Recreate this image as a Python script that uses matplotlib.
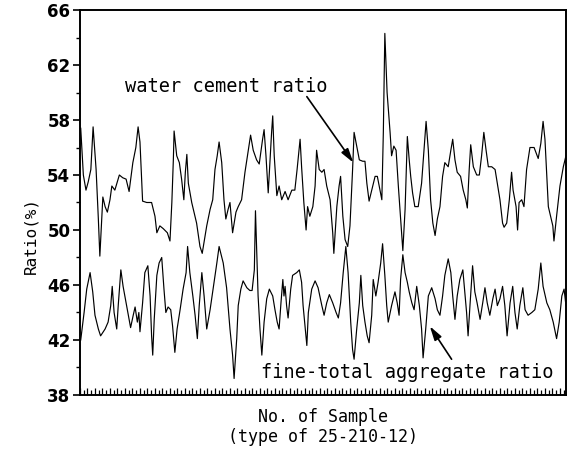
import matplotlib.pyplot as plt
from matplotlib.ticker import MultipleLocator

# water cement ratio (sample no., %)
wc_sample = [0.2, 0.5, 0.9, 1.6, 2.2, 2.9, 3.3, 3.5, 4.3, 4.9, 5.3, 6.1, 6.7, 7.3, 8.0, 8.5, 9.3,
             10.5, 11.4, 12.3, 13.1, 14.1, 14.9, 15.5, 16.0, 16.7, 17.8, 19.1, 20.0, 20.5, 21.3,
             22.2, 23.3, 24.0, 24.5, 24.9, 25.1, 25.8, 26.5, 27.1, 27.7, 28.1, 28.5, 28.9, 29.8,
             31.1, 32.0, 32.6, 33.8, 34.7, 35.4, 36.0, 36.6, 37.1, 37.8, 38.4, 38.9, 39.5, 40.0,
             40.7, 41.6, 42.2, 43.1, 44.0, 44.9, 45.5, 46.2, 47.1, 47.8, 48.7, 49.1, 49.6, 50.2,
             50.7, 51.1, 51.4, 51.8, 52.5, 53.1, 53.8, 54.7, 55.5, 56.5, 57.3, 57.9, 58.7, 59.1,
             59.7, 60.3, 60.7, 61.3, 62.1, 62.7, 63.1, 63.8, 64.5, 65.1, 65.8, 66.7, 67.4, 67.7,
             68.5, 69.1, 69.5, 70.1, 70.7, 71.4, 72.0, 72.7, 73.1, 73.8, 74.5, 75.4, 76.0, 76.5,
             77.1, 77.8, 78.7, 79.3, 79.8, 80.5, 80.9, 81.3, 81.9, 82.7, 83.1, 83.7, 84.3, 84.9,
             85.5, 86.1, 86.7, 87.3, 87.8, 88.2, 88.7, 89.3, 90.2, 91.1, 91.7, 92.3, 92.9, 93.5,
             94.1, 94.7, 95.3, 96.0, 96.7, 97.3, 98.2, 98.9, 99.4, 100.0, 100.6, 101.5, 102.2,
             102.9, 103.3, 103.8, 104.2, 104.9, 105.8, 106.5, 107.1, 107.7, 108.3, 108.9, 109.8,
             110.7, 111.3, 112.0, 112.7, 113.1, 113.8, 114.5, 115.1, 115.5, 116.3, 116.7, 117.1,
             117.8, 118.4, 119.1, 120.0, 121.1, 122.2, 122.9, 123.5, 124.0, 124.5, 124.9, 125.5,
             126.1, 126.4, 127.1, 128.0, 128.9, 129.6]
wc_ratio = [57.4, 56.0, 54.0, 52.9, 53.5, 54.4, 56.4, 57.5, 54.4, 50.8, 48.1, 52.4, 51.7, 51.3,
            52.2, 53.2, 52.9, 54.0, 53.8, 53.7, 52.8, 54.9, 56.0, 57.5, 56.4, 52.1, 52.0, 52.0,
            51.0, 49.8, 50.3, 50.1, 49.8, 49.2, 52.0, 55.1, 57.2, 55.4, 54.9, 53.7, 52.2, 54.2,
            55.5, 53.4, 52.0, 50.5, 48.8, 48.3, 50.3, 51.5, 52.2, 54.4, 55.4, 56.4, 54.9, 52.2,
            50.8, 51.5, 52.0, 49.8, 51.3, 51.7, 52.2, 54.2, 55.8, 56.9, 55.8, 55.1, 54.8, 56.6,
            57.3, 55.4, 52.7, 55.1, 57.1, 58.3, 55.4, 52.5, 53.2, 52.2, 52.8, 52.2, 52.9, 52.9,
            54.4, 56.6, 54.6, 52.0, 50.0, 51.7, 51.0, 51.7, 53.2, 55.8, 54.4, 54.2, 54.4, 53.2,
            52.2, 49.8, 48.3, 51.7, 53.2, 53.9, 51.0, 49.3, 48.8, 50.3, 54.4, 57.1, 56.1, 55.1,
            55.0, 55.0, 53.4, 52.1, 52.9, 53.9, 53.9, 53.2, 52.2, 57.1, 64.3, 60.0, 57.1, 55.4,
            56.1, 55.8, 53.2, 50.8, 48.5, 51.5, 56.8, 55.1, 53.9, 52.7, 51.7, 51.7, 53.4, 55.6,
            57.9, 55.8, 52.2, 50.5, 49.6, 50.8, 51.7, 53.9, 54.9, 54.6, 55.8, 56.6, 55.1, 54.2,
            53.9, 52.9, 52.2, 51.6, 54.4, 56.2, 54.6, 54.0, 54.0, 55.4, 57.1, 55.8, 54.6, 54.6,
            54.4, 53.4, 52.2, 50.5, 50.2, 50.5, 52.2, 54.2, 52.9, 51.7, 50.0, 52.0, 52.2, 51.7,
            54.4, 56.0, 56.0, 55.2, 56.3, 57.9, 56.6, 53.9, 51.7, 51.0, 50.3, 49.2, 51.0, 53.2,
            54.6, 55.4]

# fine-total aggregate ratio
ft_sample = [0.2, 1.1, 1.8, 2.7, 3.4, 4.0, 4.9, 5.5, 6.7, 7.5, 8.2, 8.6, 9.1, 9.8, 10.2, 10.9,
             11.5, 12.3, 12.9, 13.5, 14.2, 14.7, 15.3, 15.7, 16.0, 16.7, 17.3, 18.1, 18.7, 19.1,
             19.4, 19.8, 20.5, 21.1, 21.8, 22.4, 22.9, 23.5, 24.2, 24.7, 25.3, 25.9, 26.7, 27.5,
             28.3, 28.7, 29.3, 30.1, 30.7, 31.3, 31.8, 32.5, 33.1, 33.8, 34.7, 35.5, 36.5, 37.1,
             38.2, 39.1, 40.0, 40.7, 41.1, 41.8, 42.2, 42.9, 43.5, 44.5, 45.3, 45.9, 46.5, 46.8,
             47.5, 48.0, 48.5, 49.1, 49.8, 50.5, 51.4, 52.0, 52.6, 53.1, 53.6, 54.1, 54.4, 54.7,
             55.1, 55.5, 56.2, 56.7, 57.8, 58.5, 59.1, 59.5, 60.1, 60.5, 60.9, 61.8, 62.7, 63.5,
             64.5, 65.1, 65.8, 66.5, 67.4, 68.3, 68.9, 69.5, 70.2, 70.9, 71.5, 72.2, 72.7, 73.1,
             73.8, 74.5, 74.9, 75.4, 76.0, 76.6, 77.1, 77.8, 78.2, 78.9, 79.5, 80.2, 80.7, 81.3,
             81.8, 82.2, 83.1, 84.0, 84.6, 85.1, 85.5, 86.1, 86.7, 87.3, 87.8, 88.5, 89.1, 89.8,
             90.5, 91.1, 91.5, 92.2, 92.9, 93.8, 94.7, 95.3, 96.0, 96.7, 97.3, 98.2, 98.9, 99.4,
             100.0, 100.6, 101.3, 102.1, 102.7, 103.1, 103.5, 104.0, 104.7, 105.3, 105.9, 106.7,
             107.4, 108.0, 108.6, 109.3, 110.1, 110.7, 111.3, 112.0, 112.7, 113.3, 113.9, 114.7,
             115.4, 116.0, 116.6, 117.3, 118.1, 118.7, 119.5, 120.5, 121.3, 122.2, 122.9, 123.5,
             124.5, 125.3, 126.2, 127.1, 127.8, 128.5, 129.1, 129.6]
ft_ratio = [42.0, 44.0, 45.7, 46.9, 45.5, 43.8, 42.8, 42.3, 42.8, 43.3, 44.5, 45.9, 44.0, 42.8,
            44.5, 47.1, 45.9, 44.7, 43.8, 42.9, 43.8, 44.4, 43.3, 44.0, 42.6, 44.7, 46.9, 47.4,
            45.2, 42.3, 40.9, 43.5, 46.7, 47.6, 48.0, 45.7, 44.0, 44.4, 44.2, 43.0, 41.1, 42.8,
            44.2, 45.7, 46.9, 48.8, 46.9, 45.2, 43.8, 42.1, 44.5, 46.9, 45.2, 42.8, 44.2, 45.7,
            47.6, 48.8, 47.6, 45.8, 42.8, 40.9, 39.2, 42.1, 44.5, 45.7, 46.3, 45.8, 45.6, 45.6,
            47.1, 51.4, 45.2, 42.8, 40.9, 43.3, 45.0, 45.7, 45.2, 44.2, 43.3, 42.8, 44.7, 46.4,
            45.2, 45.9, 44.5, 43.6, 45.7, 46.7, 46.9, 47.1, 46.2, 44.5, 42.8, 41.6, 44.0, 45.7,
            46.3, 45.8, 44.5, 43.8, 44.7, 45.3, 44.7, 44.0, 43.6, 44.7, 46.9, 48.8, 46.9, 43.3,
            41.3, 40.6, 42.8, 44.7, 46.7, 44.5, 43.3, 42.3, 41.8, 43.8, 46.4, 45.2, 46.2, 47.6,
            49.0, 46.7, 44.5, 43.3, 44.5, 45.5, 44.7, 43.8, 46.4, 48.2, 46.9, 46.2, 45.5, 44.7,
            44.2, 45.9, 44.5, 42.8, 40.7, 42.8, 45.2, 45.8, 45.0, 44.2, 43.8, 45.2, 46.7, 47.9,
            46.9, 45.2, 43.5, 45.2, 46.4, 47.1, 45.2, 44.0, 42.3, 44.5, 47.4, 45.5, 44.7, 43.5,
            44.7, 45.8, 44.7, 43.8, 45.0, 45.7, 44.5, 45.0, 45.9, 44.5, 42.3, 44.7, 45.9, 44.0,
            42.8, 44.5, 45.8, 44.2, 43.8, 44.0, 44.2, 45.7, 47.6, 45.9, 44.7, 44.2, 43.3, 42.1,
            43.3, 45.2, 45.7, 44.5]

y_ticks = [38, 42, 46, 50, 54, 58, 62, 66]
n_samples = 129.6

mono = 'DejaVu Sans Mono'

fig = plt.figure(figsize=(5.68, 4.51), dpi=100)
ax = fig.add_axes([0.1408, 0.1242, 0.8556, 0.8536])

ax.plot(wc_sample, wc_ratio, color='black', lw=0.85)
ax.plot(ft_sample, ft_ratio, color='black', lw=0.85)

ax.set_xlim(0, n_samples)
ax.set_ylim(38, 66)
ax.set_yticks(y_ticks)
ax.yaxis.set_minor_locator(MultipleLocator(2))
ax.tick_params(axis='y', which='major', direction='out', length=5, width=1.2, labelsize=12, pad=2)
ax.tick_params(axis='y', which='minor', direction='out', length=3, width=1.0)
for lab in ax.get_yticklabels():
    lab.set_fontweight('bold')

# dense sample ticks along the bottom, pointing inward
ax.xaxis.set_major_locator(MultipleLocator(2))
ax.xaxis.set_minor_locator(MultipleLocator(1))
ax.tick_params(axis='x', which='major', direction='in', length=5, width=0.9, labelbottom=False)
ax.tick_params(axis='x', which='minor', direction='in', length=3.5, width=0.9)

for sp in ax.spines.values():
    sp.set_linewidth(1.4)

arrow = dict(arrowstyle='-|>,head_length=0.7,head_width=0.2', color='black', lw=1.2,
             mutation_scale=12, shrinkA=0, shrinkB=0)

ax.text(12.0, 60.05, 'water cement ratio', fontsize=13.4, family=mono, va='baseline', ha='left')
ax.annotate('', xy=(72.9, 54.9), xytext=(60.5, 59.7), arrowprops=arrow)

ax.text(48.4, 39.24, 'fine-total aggregate ratio', fontsize=13.4, family=mono, va='baseline', ha='left')
ax.annotate('', xy=(93.3, 43.0), xytext=(99.1, 40.6), arrowprops=arrow)

fig.text(323 / 568, 1 - 427 / 451, 'No. of Sample\n(type of 25-210-12)', fontsize=12,
         family=mono, ha='center', va='center', linespacing=1.2)
fig.text(31 / 568, 1 - 235 / 451, 'Ratio(%)', fontsize=11.5, family=mono, rotation=90,
         ha='center', va='center')

fig.savefig('out.png', dpi=100)
